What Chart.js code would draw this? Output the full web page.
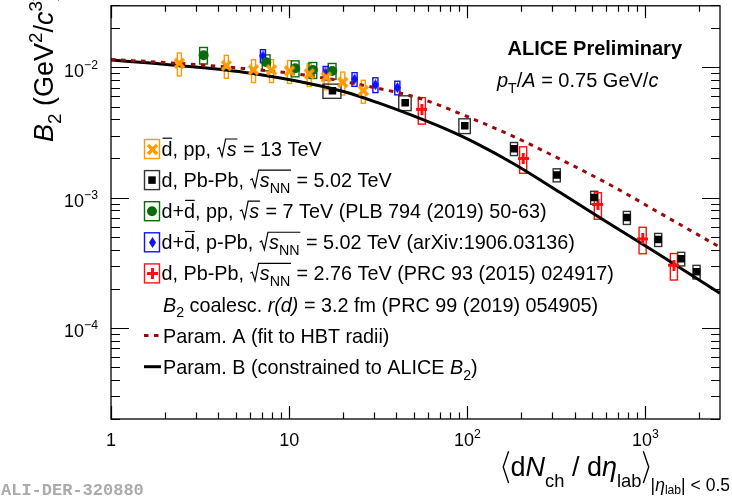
<!DOCTYPE html>
<html><head><meta charset="utf-8">
<script src="https://cdn.jsdelivr.net/npm/chart.js@4.4.0/dist/chart.umd.min.js"></script>
<style>html,body{margin:0;padding:0;background:#fff}#wrap{width:732px;height:499px;position:relative}</style>
</head><body><div id="wrap"><canvas id="c"></canvas></div>
<script>
// ---------------- data ----------------
const xTickValues = [1, 10, 100, 1000];
const yTickValues = [1e-4, 1e-3, 1e-2];

// anti-deuteron, pp 13 TeV
const pp13X   = [2.42, 4.44, 6.31, 7.96, 10.05, 12.96, 16.15, 20.0, 26.1];
const pp13B2  = [1.076e-2, 1.032e-2, 9.57e-3, 9.57e-3, 9.41e-3, 8.93e-3, 8.43e-3, 7.68e-3, 6.64e-3];
const pp13SysY = [0.2, 0.2, 0.2, 0.2, 0.2, 0.2, 0.2, 0.2, 0.2];
const pp13SysX = [0.026, 0.026, 0.026, 0.026, 0.026, 0.026, 0.026, 0.026, 0.026];

// d, Pb-Pb 5.02 TeV
const pb5X   = [17.5, 44.8, 96.8, 183, 318, 516, 787, 1180, 1588, 1937];
const pb5B2  = [6.62e-3, 5.36e-3, 3.57e-3, 2.38e-3, 1.495e-3, 1.005e-3, 7.04e-4, 4.77e-4, 3.40e-4, 2.70e-4];
const pb5SysY = [0.125, 0.13, 0.13, 0.115, 0.115, 0.115, 0.115, 0.115, 0.12, 0.12];
const pb5SysX = [0.116, 0.08, 0.074, 0.046, 0.046, 0.046, 0.046, 0.046, 0.046, 0.046];

// d+dbar, pp 7 TeV
const pp7X   = [3.31, 7.44, 10.82, 13.6, 17.45];
const pp7B2  = [1.243e-2, 1.095e-2, 9.86e-3, 9.57e-3, 9.41e-3];
const pp7SysY = [0.145, 0.14, 0.14, 0.14, 0.14];
const pp7SysX = [0.05, 0.05, 0.05, 0.05, 0.05];

// d+dbar, p-Pb 5.02 TeV
const pPbX   = [7.13, 16.04, 23.3, 30.5, 40.5];
const pPbB2  = [1.228e-2, 9.09e-3, 8.14e-3, 7.37e-3, 7.0e-3];
const pPbSysY = [0.115, 0.12, 0.12, 0.13, 0.12];
const pPbSysX = [0.033, 0.033, 0.033, 0.033, 0.033];

// d, Pb-Pb 2.76 TeV
const pb276X   = [55.6, 206, 541, 965, 1445];
const pb276B2  = [4.77e-3, 2.0e-3, 8.87e-4, 4.82e-4, 3.03e-4];
const pb276SysY = [0.23, 0.23, 0.23, 0.23, 0.23];
const pb276SysX = [0.046, 0.046, 0.046, 0.046, 0.046];

// coalescence curves
const paramAX  = [1, 2.35, 5.55, 13.1, 31.1, 54.4, 97.2, 181, 361, 660, 1206, 2617];
const paramAB2 = [1.153e-2, 1.076e-2, 9.83e-3, 8.62e-3, 6.94e-3, 5.78e-3, 4.26e-3, 2.96e-3, 1.865e-3, 1.217e-3, 7.61e-4, 4.17e-4];
const paramBX  = [1, 2.35, 5.55, 13.1, 20.2, 31.1, 47.8, 73.2, 113, 181, 332, 632, 1206, 2617];
const paramBB2 = [1.139e-2, 1.035e-2, 9.17e-3, 7.50e-3, 6.53e-3, 5.39e-3, 4.34e-3, 3.43e-3, 2.60e-3, 1.83e-3, 1.096e-3, 6.28e-4, 3.63e-4, 1.85e-4];

// ---------------- styling helpers ----------------
const ORANGE = '#ff9a00', GREEN = '#0b6b0b', BLUE = '#1010ff', RED = '#ff1010', DARKRED = '#9a0a0a';
const FONT = '"Liberation Sans", Arial, Helvetica, sans-serif';
function fnt(sz, it, b) { return (it ? 'italic ' : '') + (b ? 'bold ' : '') + sz.toFixed(2) + 'px ' + FONT; }

function mk(w, h, fn) { const c = document.createElement('canvas'); c.width = w; c.height = h; const g = c.getContext('2d'); fn(g); return c; }
const xMarker = mk(13, 13, g => { g.strokeStyle = ORANGE; g.lineWidth = 3.4; g.beginPath(); g.moveTo(2, 2); g.lineTo(11, 11); g.moveTo(11, 2); g.lineTo(2, 11); g.stroke(); });
const plusMarker = mk(11, 11, g => { g.fillStyle = RED; g.fillRect(0, 4, 11, 3); g.fillRect(4, 0, 3, 11); });
const diaMarker = mk(7, 11, g => { g.fillStyle = BLUE; g.beginPath(); g.moveTo(3.5, 0); g.lineTo(7, 5.5); g.lineTo(3.5, 11); g.lineTo(0, 5.5); g.closePath(); g.fill(); });

function pts(xs, ys) { return xs.map((x, i) => ({ x: x, y: ys[i] })); }

function rich(ctx, segs, x, y, size, draw) {
  let cx = x;
  for (let g of segs) {
    if (typeof g === 'string') g = { s: g };
    if (g.sqrt) {
      const sw = 0.52 * size;
      const iw = rich(ctx, g.sqrt, cx + sw, y, size, false);
      if (draw) {
        ctx.save(); ctx.lineWidth = Math.max(1, size * 0.06);
        ctx.beginPath();
        ctx.moveTo(cx + 0.04 * size, y - 0.36 * size);
        ctx.lineTo(cx + 0.14 * size, y - 0.42 * size);
        ctx.lineTo(cx + 0.28 * size, y + 0.02 * size);
        ctx.lineTo(cx + 0.46 * size, y - 0.86 * size);
        ctx.lineTo(cx + sw + iw + 0.04 * size, y - 0.86 * size);
        ctx.stroke(); ctx.restore();
        rich(ctx, g.sqrt, cx + sw, y, size, true);
      }
      cx += sw + iw + 0.04 * size; continue;
    }
    if (g.ang) {
      const w = 0.34 * size;
      if (draw) {
        ctx.save(); ctx.lineWidth = Math.max(1, size * 0.05); ctx.beginPath();
        if (g.ang === '<') { ctx.moveTo(cx + 0.27 * size, y - 0.92 * size); ctx.lineTo(cx + 0.07 * size, y - 0.33 * size); ctx.lineTo(cx + 0.27 * size, y + 0.26 * size); }
        else { ctx.moveTo(cx + 0.07 * size, y - 0.92 * size); ctx.lineTo(cx + 0.27 * size, y - 0.33 * size); ctx.lineTo(cx + 0.07 * size, y + 0.26 * size); }
        ctx.stroke(); ctx.restore();
      }
      cx += w; continue;
    }
    const sz = size * (g.sc || 1), by = y + (g.dy || 0) * size;
    ctx.font = fnt(sz, g.it, g.b);
    const w = ctx.measureText(g.s).width;
    if (draw) {
      ctx.fillText(g.s, cx, by);
      if (g.bar) { ctx.save(); ctx.lineWidth = Math.max(1, sz * 0.06); ctx.beginPath(); ctx.moveTo(cx + 0.05 * sz, by - 0.9 * sz); ctx.lineTo(cx + w - 0.02 * sz, by - 0.9 * sz); ctx.stroke(); ctx.restore(); }
    }
    cx += w + (g.sp || 0) * size;
  }
  return cx - x;
}
const I = s => ({ s: s, it: true });
const SUB = s => ({ s: s, sc: 0.72, dy: 0.3 });
const SUP = s => ({ s: s, sc: 0.7, dy: -0.42 });
const DBAR = { s: 'd', bar: true };
const SQS = { sqrt: [I('s')] };
const SQSNN = { sqrt: [I('s'), SUB('NN')] };

const legendRows = [
  { ds: 0, segs: [DBAR, ', pp, ', SQS, ' = 13 TeV'] },
  { ds: 1, segs: ['d, Pb-Pb, ', SQSNN, ' = 5.02 TeV'] },
  { ds: 2, segs: ['d+', DBAR, ', pp, ', SQS, ' = 7 TeV (PLB 794 (2019) 50-63)'] },
  { ds: 3, segs: ['d+', DBAR, ', p-Pb, ', SQSNN, ' = 5.02 TeV (arXiv:1906.03136)'] },
  { ds: 4, segs: ['d, Pb-Pb, ', SQSNN, ' = 2.76 TeV (PRC 93 (2015) 024917)'] },
  { ds: -1, segs: [I('B'), SUB('2'), ' coalesc. ', I('r(d)'), ' = 3.2 fm (PRC 99 (2019) 054905)'] },
  { ds: 5, segs: ['Param. A (fit to HBT radii)'] },
  { ds: 6, segs: ['Param. B (constrained to ALICE ', I('B'), SUB('2'), ')'] }
];

function drawMarker(ctx, ds, x, y) {
  const st = ds.pointStyle;
  if (st instanceof HTMLCanvasElement) { ctx.drawImage(st, Math.round(x - st.width / 2), Math.round(y - st.height / 2)); return; }
  ctx.fillStyle = ds.pointBackgroundColor;
  if (st === 'circle') { ctx.beginPath(); ctx.arc(x, y, ds.pointRadius, 0, Math.PI * 2); ctx.fill(); }
  else if (st === 'rect') { const s = ds.pointRadius * Math.SQRT1_2; ctx.fillRect(x - s, y - s, 2 * s, 2 * s); }
}

const deco = {
  id: 'deco',
  beforeDatasetsDraw(chart) {
    const ctx = chart.ctx, xs = chart.scales.x, ys = chart.scales.y;
    ctx.save();
    chart.data.datasets.forEach(ds => {
      if (!ds.sysY) return;
      ctx.strokeStyle = ds.sysColor; ctx.lineWidth = 1.4;
      ds.data.forEach((p, i) => {
        const x1 = xs.getPixelForValue(p.x * (1 - ds.sysX[i])), x2 = xs.getPixelForValue(p.x * (1 + ds.sysX[i]));
        const y1 = ys.getPixelForValue(p.y * (1 + ds.sysY[i])), y2 = ys.getPixelForValue(p.y * (1 - ds.sysY[i]));
        ctx.strokeRect(x1, y1, x2 - x1, y2 - y1);
      });
    });
    ctx.restore();
  },
  afterDraw(chart) {
    const ctx = chart.ctx, xs = chart.scales.x, ys = chart.scales.y;
    const { left, right, top, bottom } = chart.chartArea;
    ctx.save();
    ctx.fillStyle = '#000'; ctx.strokeStyle = '#000'; ctx.textBaseline = 'alphabetic'; ctx.textAlign = 'left';
    // frame
    ctx.lineWidth = 1.3;
    ctx.strokeRect(left, top + 0.5, right - left, bottom - top - 0.5);
    // ticks
    ctx.lineWidth = 1.2; ctx.beginPath();
    xTickValues.forEach(d => {
      for (let m = 1; m <= 9; m++) {
        const v = d * m; if (v < xs.min || v > xs.max) continue;
        const px = Math.round(xs.getPixelForValue(v)) + 0.5, L = m === 1 ? 13 : 6.5;
        ctx.moveTo(px, bottom); ctx.lineTo(px, bottom - L);
        ctx.moveTo(px, top); ctx.lineTo(px, top + L);
      }
    });
    [1e-5].concat(yTickValues).forEach(d => {
      for (let m = 1; m <= 9; m++) {
        const v = d * m; if (v < ys.min * 0.999 || v > ys.max * 1.001) continue;
        const py = Math.round(ys.getPixelForValue(v)) + 0.5, L = m === 1 ? 18 : 9;
        ctx.moveTo(left, py); ctx.lineTo(left + L, py);
        ctx.moveTo(right, py); ctx.lineTo(right - L, py);
      }
    });
    ctx.stroke();
    // tick labels
    const TS = 18;
    xs.ticks.forEach(t => {
      const v = t.value, px = xs.getPixelForValue(v);
      const e = Math.round(Math.log10(v));
      const segs = e === 0 ? ['1'] : e === 1 ? ['10'] : ['10', { s: String(e), sc: 0.68, dy: -0.45 }];
      const w = rich(ctx, segs, 0, 0, TS, false);
      rich(ctx, segs, px - w / 2, 446, TS, true);
    });
    ys.ticks.forEach(t => {
      const v = t.value, py = ys.getPixelForValue(v);
      const e = Math.round(Math.log10(v));
      const segs = ['10', { s: '\u2212' + String(-e), sc: 0.68, dy: -0.45 }];
      const w = rich(ctx, segs, 0, 0, TS, false);
      rich(ctx, segs, 98 - w, py + 9.5, TS, true);
    });
    // axis titles
    const AF = 27;
    const xt = [{ ang: '<' }, 'd', I('N'), { s: 'ch', sc: 0.68, dy: 0.42 }, ' / d', I('\u03b7'), { s: 'lab', sc: 0.68, dy: 0.42 }, { ang: '>' },
      { s: '|', sc: 0.65, dy: 0.55 }, { s: '\u03b7', it: true, sc: 0.65, dy: 0.55 }, { s: 'lab', sc: 0.45, dy: 0.66 }, { s: '| < 0.5', sc: 0.65, dy: 0.55 }];
    const xw = rich(ctx, xt, 0, 0, AF, false);
    rich(ctx, xt, 730 - xw, 476, AF, true);
    ctx.save(); ctx.translate(53, 142); ctx.rotate(-Math.PI / 2);
    rich(ctx, [I('B'), { s: '2', sc: 0.7, dy: 0.3 }, ' (GeV', SUP('2'), '/', I('c'), SUP('3'), ')'], 0, 0, AF, true);
    ctx.restore();
    // header texts
    ctx.font = fnt(20, false, true); ctx.textAlign = 'right';
    ctx.fillText('ALICE Preliminary', 682, 55);
    ctx.textAlign = 'left';
    rich(ctx, [I('p'), { s: 'T', sc: 0.7, dy: 0.32 }, '/', I('A'), ' = 0.75 GeV/', I('c')], 497, 87, 20, true);
    // legend
    const LF = 19.8;
    legendRows.forEach((r, i) => {
      const by = 156 + i * 31.1, cy = by - 7;
      if (r.ds >= 0) {
        const ds = chart.data.datasets[r.ds];
        if (ds.sysY) {
          ctx.save(); ctx.strokeStyle = ds.sysColor; ctx.lineWidth = 1.4;
          ctx.strokeRect(144.5, cy - 9.5, 15, 19); ctx.restore();
          drawMarker(ctx, ds, 152, cy);
        } else {
          ctx.save(); ctx.strokeStyle = ds.borderColor; ctx.lineWidth = 3; ctx.setLineDash(ds.borderDash || []);
          ctx.beginPath(); ctx.moveTo(144, cy); ctx.lineTo(161, cy); ctx.stroke(); ctx.restore();
        }
      }
      ctx.fillStyle = '#000'; ctx.strokeStyle = '#000';
      rich(ctx, r.segs, r.ds >= 0 && r.ds < 5 ? 161.5 : 163, by, LF, true);
    });
    // watermark
    ctx.font = 'bold 17px "Liberation Mono", "DejaVu Sans Mono", monospace';
    ctx.fillStyle = '#ababab';
    ctx.fillText('ALI-DER-320880', 1, 495);
    ctx.restore();
  }
};

new Chart(document.getElementById('c'), {
  type: 'scatter',
  data: {
    datasets: [
      { label: 'dbar pp 13 TeV', data: pts(pp13X, pp13B2), pointStyle: xMarker, sysX: pp13SysX, sysY: pp13SysY, sysColor: ORANGE, order: 1 },
      { label: 'd Pb-Pb 5.02 TeV', data: pts(pb5X, pb5B2), pointStyle: 'rect', pointRadius: 5.3, pointBackgroundColor: '#000', pointBorderWidth: 0, sysX: pb5SysX, sysY: pb5SysY, sysColor: '#333', order: 1 },
      { label: 'd+dbar pp 7 TeV', data: pts(pp7X, pp7B2), pointStyle: 'circle', pointRadius: 5, pointBackgroundColor: GREEN, pointBorderWidth: 0, sysX: pp7SysX, sysY: pp7SysY, sysColor: GREEN, order: 1 },
      { label: 'd+dbar p-Pb 5.02 TeV', data: pts(pPbX, pPbB2), pointStyle: diaMarker, sysX: pPbSysX, sysY: pPbSysY, sysColor: BLUE, order: 1 },
      { label: 'd Pb-Pb 2.76 TeV', data: pts(pb276X, pb276B2), pointStyle: plusMarker, sysX: pb276SysX, sysY: pb276SysY, sysColor: RED, order: 1 },
      { label: 'Param. A', data: pts(paramAX, paramAB2), showLine: true, pointRadius: 0, borderColor: DARKRED, borderWidth: 3, borderDash: [4.5, 5.5], cubicInterpolationMode: 'monotone', order: 5 },
      { label: 'Param. B', data: pts(paramBX, paramBB2), showLine: true, pointRadius: 0, borderColor: '#000', borderWidth: 3, cubicInterpolationMode: 'monotone', order: 5 }
    ]
  },
  options: {
    responsive: true, maintainAspectRatio: false, animation: false, events: [],
    layout: { padding: { left: 0, right: 12, top: 0, bottom: 0 } },
    plugins: { legend: { display: false }, tooltip: { enabled: false }, title: { display: false } },
    scales: {
      x: {
        type: 'logarithmic', min: 1, max: 2620,
        ticks: { display: false }, grid: { display: false }, border: { display: false },
        afterBuildTicks: s => { s.ticks = xTickValues.map(v => ({ value: v, major: true })); },
        afterFit: s => { s.height = 80; }
      },
      y: {
        type: 'logarithmic', min: 2e-5, max: 0.03,
        ticks: { display: false }, grid: { display: false }, border: { display: false },
        afterBuildTicks: s => { s.ticks = yTickValues.map(v => ({ value: v, major: true })); },
        afterFit: s => { s.width = 111; }
      }
    }
  },
  plugins: [deco]
});
</script>
</body></html>
